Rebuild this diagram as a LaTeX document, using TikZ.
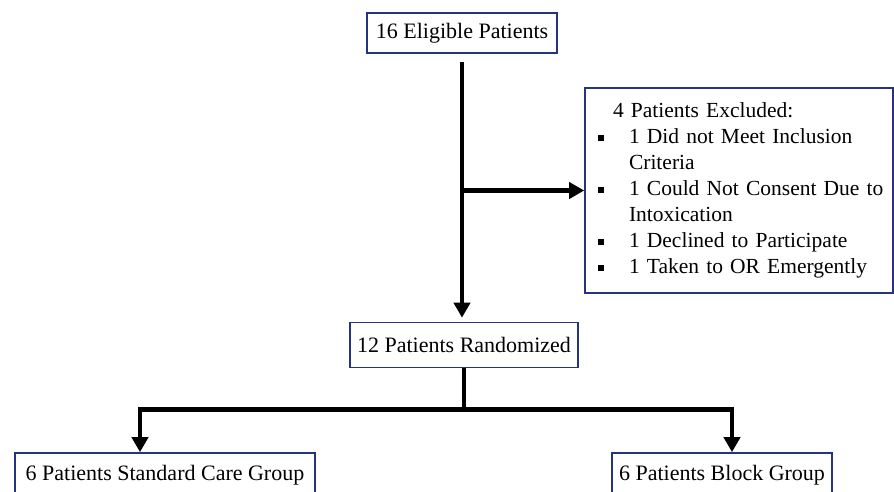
\documentclass[tikz,border=0pt]{standalone}
\usepackage{fontspec}
\setmainfont{Liberation Serif}
\usetikzlibrary{arrows.meta}
\definecolor{boxblue}{RGB}{40,50,130}
\newcommand\bul{\makebox[38pt][l]{\hspace{7pt}\rule[3pt]{6pt}{6pt}}}
\begin{document}
\begin{tikzpicture}[x=1pt,y=-1pt,
    box/.style={draw=boxblue,line width=1.6pt,inner xsep=6pt,font=\fontsize{22}{26}\selectfont},
    flow/.style={line width=4.5pt,-{Triangle[width=16pt,length=15pt]}}]
  \useasboundingbox (0,0) rectangle (894,491);
  \clip (0,0) rectangle (894,491);
  \node[box,minimum width=190pt,minimum height=40pt] (elig) at (462,33) {16 Eligible Patients};
  \node[box,text width=296pt,minimum height=205pt,align=left,font=\fontsize{21.5}{26}\selectfont] (excl) at (739,190.5) {%
    \hspace*{22pt}4 Patients Excluded:\\
    \bul 1 Did not Meet Inclusion\\
    \hspace*{38pt}Criteria\\
    \bul\mbox{1 Could Not Consent Due to}\\
    \hspace*{38pt}Intoxication\\
    \bul 1 Declined to Participate\\
    \bul 1 Taken to OR Emergently};
  \node[box,minimum width=228pt,minimum height=45pt] (rand) at (464,345) {12 Patients Randomized};
  \node[box,minimum width=300pt,minimum height=44pt] (left) at (165,475) {6 Patients Standard Care Group};
  \node[box,minimum width=220pt,minimum height=44pt] (right) at (722,475) {6 Patients Block Group};
  \draw[flow,shorten <=8pt,shorten >=4pt] (elig.south) -- (elig.south |- rand.north);
  \draw[flow] (elig.south |- excl.west) -- (excl.west);
  \draw[line width=4.5pt] (rand.south) -- ++(0,41) coordinate (split);
  \draw[flow] (split) -| ([xshift=-25pt]left.north);
  \draw[flow] (split) -| ([xshift=10pt]right.north);
\end{tikzpicture}
\end{document}
